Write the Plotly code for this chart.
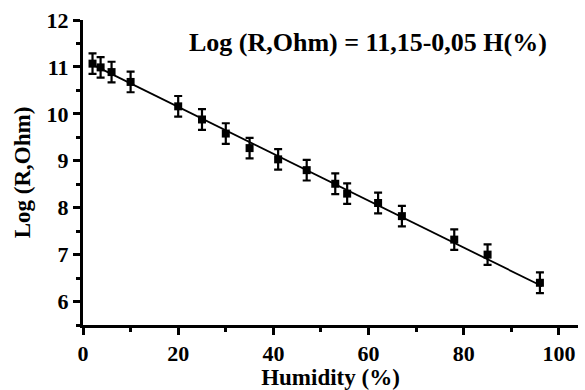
import plotly.graph_objects as go

humidity = [2, 3.7, 6, 10, 20, 25, 30, 35, 41, 47, 53, 55.5, 62, 67, 78, 85, 96]
log_r = [11.07, 10.99, 10.89, 10.68, 10.16, 9.88, 9.58, 9.27, 9.03, 8.80, 8.51, 8.30, 8.10, 7.82, 7.32, 7.00, 6.40]
err = [0.22] * len(humidity)
fit_intercept = 11.15
fit_slope = -0.05
fit_x = [2, 96.5]
fit_y = [fit_intercept + fit_slope * h for h in fit_x]
x_ticks = [0, 20, 40, 60, 80, 100]
y_ticks = [6, 7, 8, 9, 10, 11, 12]

font_fam = "Liberation Serif"

fig = go.Figure()
fig.add_trace(go.Scatter(x=fit_x, y=fit_y, mode="lines",
                         line=dict(color="black", width=1.8), showlegend=False))
fig.add_trace(go.Scatter(x=humidity, y=log_r, mode="markers",
                         marker=dict(symbol="square", size=8, color="black"),
                         error_y=dict(type="data", array=err, color="black",
                                      thickness=2.2, width=4),
                         showlegend=False))

fig.add_annotation(x=21.9, y=11.51, xref="x", yref="y", text="<b>Log (R,Ohm) = 11,15-0,05 H(%)</b>",
                   showarrow=False, xanchor="left", yanchor="middle",
                   font=dict(family=font_fam, size=26, color="black"))

fig.update_layout(
    width=585, height=390,
    margin=dict(l=83, r=7, t=20, b=65),
    paper_bgcolor="white", plot_bgcolor="white",
    font=dict(family=font_fam, color="black"),
)
fig.update_xaxes(range=[0, 104], tickvals=x_ticks, ticktext=[str(v) for v in x_ticks],
                 ticks="outside", ticklen=7, tickwidth=2.5, tickcolor="black", automargin=False,
                 minor=dict(ticks="outside", ticklen=4, tickwidth=2.5, dtick=10, tickcolor="black", showgrid=False),
                 showline=True, linewidth=3, linecolor="black", showgrid=False, zeroline=False,
                 tickfont=dict(size=22, family=font_fam, weight="bold"),
                 title=dict(text="<b>Humidity (%)</b>", font=dict(size=23, family=font_fam), standoff=1))
fig.update_yaxes(range=[5.5, 12], tickvals=y_ticks, ticktext=[str(v) for v in y_ticks],
                 ticks="outside", ticklen=7, tickwidth=2.5, tickcolor="black", automargin=False,
                 minor=dict(ticks="outside", ticklen=4, tickwidth=2.5, dtick=0.5, tickcolor="black", showgrid=False),
                 showline=True, linewidth=3, linecolor="black", showgrid=False, zeroline=False,
                 tickfont=dict(size=22, family=font_fam, weight="bold"),
                 title=dict(text="<b>Log (R,Ohm)</b>", font=dict(size=23, family=font_fam), standoff=10))

fig.write_html("out.html")
